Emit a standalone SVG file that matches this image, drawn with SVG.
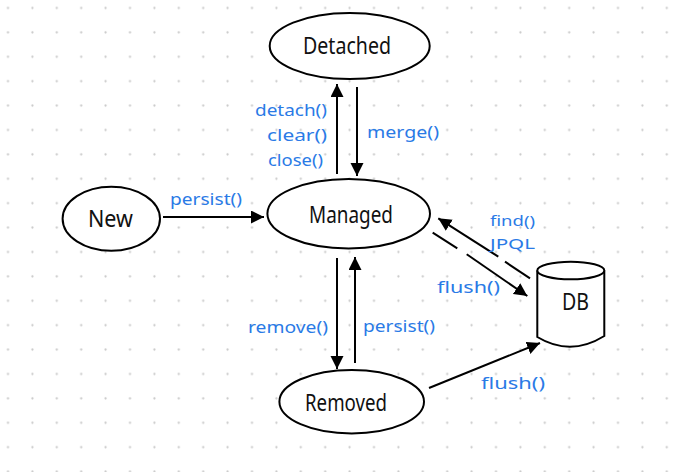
<svg xmlns="http://www.w3.org/2000/svg" width="697" height="472" viewBox="0 0 697 472">
<defs>
<pattern id="dots" patternUnits="userSpaceOnUse" x="-4.2" y="-4.2" width="24.4" height="24.4">
<circle cx="12.2" cy="12.2" r="1.1" fill="#c8c8c8"/>
</pattern>
<marker id="ah" markerUnits="userSpaceOnUse" markerWidth="14" markerHeight="14" refX="13" refY="6.5" orient="auto">
<path d="M0,0 L13,6.5 L0,13 z" fill="#000"/>
</marker>
<style>
.node{fill:#fff;stroke:#000;stroke-width:2}
.nt{font-family:"Noto Sans","Liberation Sans",sans-serif;font-size:23px;fill:#111}
.lb{font-family:"Noto Sans","Liberation Sans",sans-serif;font-size:17px;fill:#2a7ae6}
.sm{font-size:15px}
.edge{fill:none;stroke:#000;stroke-width:2}
</style>
</defs>
<rect x="0" y="0" width="697" height="472" fill="#fff"/>
<rect x="0" y="0" width="680" height="472" fill="url(#dots)"/>

<g id="connectors">
<path class="edge" d="M163,217 L264,217" marker-end="url(#ah)"/>
<path class="edge" d="M337,174 L337,84" marker-end="url(#ah)"/>
<path class="edge" d="M357,87 L357,176" marker-end="url(#ah)"/>
<path class="edge" d="M337,258 L337,369" marker-end="url(#ah)"/>
<path class="edge" d="M355,363 L355,257" marker-end="url(#ah)"/>
<path class="edge" d="M429,388 L540,343" marker-end="url(#ah)"/>
<path class="edge" d="M432.7,232.7 L457.3,248.3"/>
<path class="edge" d="M466.7,254.3 L527.3,296" marker-end="url(#ah)"/>
<path class="edge" d="M530,278.3 L505,261.7"/>
<path class="edge" d="M498.3,256.7 L438.3,218.3" marker-end="url(#ah)"/>
</g>

<g id="labels">
<text class="lb" x="170" y="205" textLength="72" lengthAdjust="spacingAndGlyphs">persist()</text>
<text class="lb" x="255" y="116" textLength="72" lengthAdjust="spacingAndGlyphs">detach()</text>
<text class="lb" x="267" y="141" textLength="60" lengthAdjust="spacingAndGlyphs">clear()</text>
<text class="lb" x="268" y="166" textLength="55" lengthAdjust="spacingAndGlyphs">close()</text>
<text class="lb" x="367" y="138" textLength="72" lengthAdjust="spacingAndGlyphs">merge()</text>
<text class="lb" x="248" y="333" textLength="80" lengthAdjust="spacingAndGlyphs">remove()</text>
<text class="lb" x="363" y="332" textLength="72" lengthAdjust="spacingAndGlyphs">persist()</text>
<text class="lb" x="481" y="389" textLength="64" lengthAdjust="spacingAndGlyphs">flush()</text>
<text class="lb sm" x="490" y="226" textLength="45" lengthAdjust="spacingAndGlyphs">find()</text>
<text class="lb sm" x="490" y="249" textLength="45" lengthAdjust="spacingAndGlyphs">JPQL</text>
<text class="lb" x="437" y="293" textLength="63" lengthAdjust="spacingAndGlyphs">flush()</text>
</g>

<g id="detached">
<ellipse class="node" cx="349.7" cy="46" rx="80" ry="33"/>
<text class="nt" x="303" y="54" textLength="88" lengthAdjust="spacingAndGlyphs">Detached</text>
</g>
<g id="new">
<ellipse class="node" cx="111.3" cy="218.7" rx="48.7" ry="32"/>
<text class="nt" x="88" y="227" textLength="45" lengthAdjust="spacingAndGlyphs">New</text>
</g>
<g id="managed">
<ellipse class="node" cx="348.7" cy="213.7" rx="81.3" ry="34.7"/>
<text class="nt" x="309" y="223" textLength="84" lengthAdjust="spacingAndGlyphs">Managed</text>
</g>
<g id="removed">
<ellipse class="node" cx="351.7" cy="401.7" rx="72.3" ry="31.7"/>
<text class="nt" x="305" y="411" textLength="82" lengthAdjust="spacingAndGlyphs">Removed</text>
</g>
<g id="db">
<path class="node" d="M537.3,270.5 L537.3,337 Q570.5,357 604.3,336 L604.3,270.5"/>
<ellipse class="node" cx="570.8" cy="270.5" rx="33.5" ry="8.8"/>
<text class="nt" x="562" y="310" textLength="27" lengthAdjust="spacingAndGlyphs">DB</text>
</g>
</svg>
